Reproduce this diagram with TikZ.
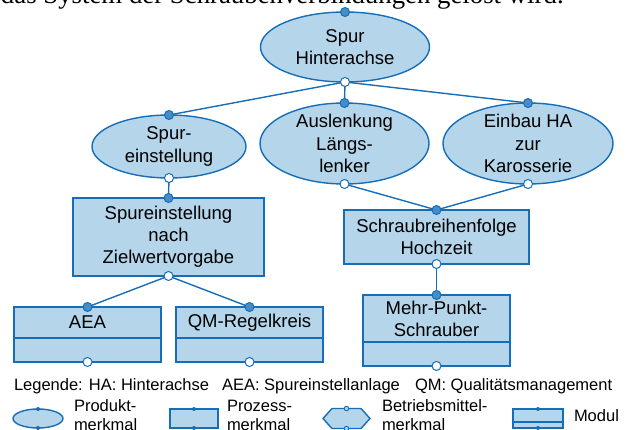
\documentclass[tikz,border=0pt]{standalone}
\usepackage{fontspec}
\setmainfont{Liberation Sans}
\newfontfamily\serifx{Liberation Serif}
\usetikzlibrary{shapes.geometric}
\definecolor{lc}{RGB}{22,110,184}
\definecolor{fc}{RGB}{180,213,234}
\definecolor{dc}{RGB}{70,140,200}
\begin{document}
\begin{tikzpicture}[x=1pt,y=-1pt,
 every node/.style={inner sep=0pt, outer sep=0pt},
 ell/.style={ellipse, draw=lc, fill=fc, line width=1.4pt},
 lbl/.style={align=center, font=\fontsize{18.5}{22.5}\selectfont},
 box/.style={rectangle, draw=lc, fill=fc, line width=1.4pt, align=center, font=\fontsize{18.5}{22}\selectfont},
 conn/.style={draw=lc, line width=1.4pt},
 fdot/.style={circle, draw=lc, fill=dc, line width=1pt, minimum size=9pt},
 odot/.style={circle, draw=lc, fill=white, line width=1pt, minimum size=9pt},
 sfdot/.style={circle, fill=lc, minimum size=4pt},
 sodot/.style={circle, draw=lc, fill=fc, line width=0.9pt, minimum size=4.5pt},
 leg/.style={anchor=base west, font=\fontsize{16.5}{19}\selectfont},
 legl/.style={anchor=base west, font=\fontsize{16.5}{19}\selectfont},
 lsym/.style={draw=lc, fill=fc, line width=1.4pt}
]
\useasboundingbox (0,0) rectangle (627,430);

% cut-off running text
\node[anchor=base west, font=\serifx\fontsize{26.8}{31}\selectfont] (toptext) at (1,4) {das System der Schraubenverbindungen gelöst wird.};

% ellipses (product features)
\node[ell, minimum width=169pt, minimum height=70pt] (sp) at (345,47) {};
\node[lbl] (sp-t) at (sp) {Spur\\Hinterachse};
\node[ell, minimum width=154pt, minimum height=63pt] (spe) at (169,146.5) {};
\node[lbl] (spe-t) at (spe) {Spur-\\einstellung};
\node[ell, minimum width=169pt, minimum height=81pt] (aus) at (344.5,143.5) {};
\node[lbl] (aus-t) at (aus) {Auslenkung\\Längs-\\lenker};
\node[ell, minimum width=170pt, minimum height=81pt] (ein) at (528,143.5) {};
\node[lbl] (ein-t) at (ein) {Einbau HA\\zur\\Karosserie};

% process boxes
\node[box, minimum width=191pt, minimum height=78pt] (b1) at (168.5,237) {Spureinstellung\\nach\\Zielwertvorgabe};
\node[box, minimum width=185pt, minimum height=54pt] (b2) at (436.5,237) {Schraubreihenfolge\\Hochzeit};

% modules
\node[box, minimum width=147pt, minimum height=31pt] (aea) at (87.5,322.5) {AEA};
\node[box, minimum width=147pt, minimum height=24pt] (aea-b) at (87.5,350) {};
\node[box, minimum width=147pt, minimum height=31pt] (qm) at (249.5,322.5) {QM-Regelkreis};
\node[box, minimum width=147pt, minimum height=24pt] (qm-b) at (249.5,350) {};
\node[box, minimum width=147pt, minimum height=47pt] (mps) at (436.5,318.5) {Mehr-Punkt-\\Schrauber};
\node[box, minimum width=147pt, minimum height=24pt] (mps-b) at (436.5,354) {};

% connectors
\draw[conn] (sp.south) -- (spe.north);
\draw[conn] (sp.south) -- (aus.north);
\draw[conn] (sp.south) -- (ein.north);
\draw[conn] (spe.south) -- (b1.north);
\draw[conn] (b1.south) -- (aea.north);
\draw[conn] (b1.south) -- (qm.north);
\draw[conn] (aus.south) -- (b2.north);
\draw[conn] (ein.south) -- (b2.north);
\draw[conn] (b2.south) -- (mps.north);

% ports
\foreach \n in {sp,spe,aus,ein,b1,b2,aea,qm,mps}
  \node[fdot] (\n-in) at (\n.north) {};
\foreach \n in {sp,spe,aus,ein,b1,b2,aea-b,qm-b,mps-b}
  \node[odot] (\n-out) at (\n.south) {};

% legend
\node[legl] (lg-a) at (14,391) {Legende: HA: Hinterachse};
\node[legl] (lg-b) at (222,391) {AEA: Spureinstellanlage};
\node[legl] (lg-c) at (415,391) {QM: Qualitätsmanagement};

\node[ellipse, lsym, minimum width=50pt, minimum height=19pt] (ls1) at (38,418.5) {};
\node[sfdot] (ls1-a) at (ls1.north) {};
\node[sfdot] (ls1-b) at (ls1.south) {};
\node[leg] (lt1a) at (74,412) {Produkt-};
\node[leg] (lt1b) at (74,431) {merkmal};

\node[rectangle, lsym, minimum width=48pt, minimum height=19pt] (ls2) at (194,418.5) {};
\node[sfdot] (ls2-a) at (ls2.north) {};
\node[sfdot] (ls2-b) at (ls2.south) {};
\node[leg] (lt2a) at (227,412) {Prozess-};
\node[leg] (lt2b) at (227,431) {merkmal};

\draw[lsym, line join=miter] (323,418.5) -- (332,408.5) -- (361,408.5) -- (370,418.5) -- (361,428.5) -- (332,428.5) -- cycle;
\coordinate (ls3a) at (346.5,408.5);
\coordinate (ls3b) at (346.5,428.5);
\node[sodot] (ls3-a) at (ls3a) {};
\node[sodot] (ls3-b) at (ls3b) {};
\node[leg] (lt3a) at (382,412) {Betriebsmittel-};
\node[leg] (lt3b) at (382,431) {merkmal};

\node[rectangle, lsym, minimum width=50pt, minimum height=13pt] (ls4) at (538,415.5) {};
\node[rectangle, lsym, minimum width=50pt, minimum height=6pt] (ls4-b) at (538,425) {};
\node[sfdot] (ls4-x) at (ls4.north) {};
\node[sfdot] (ls4-y) at (ls4-b.south) {};
\node[leg] (lt4) at (574,422) {Modul};
\end{tikzpicture}
\end{document}
